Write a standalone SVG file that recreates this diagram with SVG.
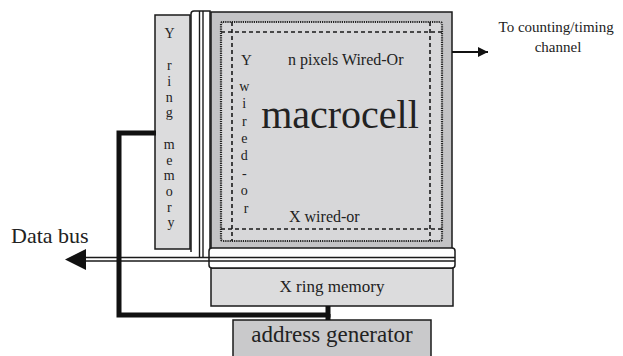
<svg xmlns="http://www.w3.org/2000/svg" width="623" height="356" viewBox="0 0 623 356">
<defs>
<style>
.t{font-family:"Liberation Serif","Times New Roman",serif;fill:#222}
.box{stroke:#1a1a1a;stroke-width:1.5}
.dl{stroke:#1a1a1a;stroke-width:1.4;fill:none}
.dash{stroke:#1a1a1a;stroke-width:1.6;stroke-dasharray:4 3;fill:none}
.thick{stroke:#111;stroke-width:5;fill:none;stroke-linejoin:miter}
</style>
<marker id="ah" viewBox="0 0 10 10" refX="10" refY="5" markerWidth="10" markerHeight="10" markerUnits="userSpaceOnUse" orient="auto">
<path d="M0,0 L10,5 L0,10 z" fill="#111"/>
</marker>
</defs>
<rect width="623" height="356" fill="#fff"/>

<g id="y-ring-memory">
<rect class="box" x="155" y="15" width="35" height="234" fill="#dcdcdd"/>
<text class="t" font-size="14" text-anchor="middle">
<tspan x="171" y="38">Y</tspan>
<tspan x="171" y="70">r</tspan>
<tspan x="171" y="86">i</tspan>
<tspan x="171" y="102">n</tspan>
<tspan x="171" y="117">g</tspan>
<tspan x="171" y="149">m</tspan>
<tspan x="171" y="165">e</tspan>
<tspan x="171" y="180">m</tspan>
<tspan x="171" y="196">o</tspan>
<tspan x="171" y="212">r</tspan>
<tspan x="171" y="227">y</tspan>
</text>
</g>

<g id="y-bus">
<path class="box" d="M191,252 V14 Q191,11 194,11 H210 V252" fill="#fff"/>
<line class="dl" x1="199.5" y1="11" x2="199.5" y2="258"/>
<line class="dl" x1="203" y1="11" x2="203" y2="258"/>
</g>

<g id="macrocell">
<rect class="box" x="211" y="12" width="241" height="237" fill="#c3c3c5"/>
<rect x="221" y="22" width="221" height="219" rx="2" fill="#d7d7d9" stroke="#222" stroke-width="2.2" stroke-dasharray="1.2 1"/>
<line class="dash" x1="221" y1="32" x2="442" y2="32"/>
<line class="dash" x1="221" y1="229" x2="442" y2="229"/>
<line class="dash" x1="232" y1="22" x2="232" y2="241"/>
<line class="dash" x1="430" y1="22" x2="430" y2="241"/>
<text class="t" x="241" y="65" font-size="15">Y</text>
<text class="t" x="288" y="65" font-size="16">n pixels Wired-Or</text>
<text class="t" font-size="14" text-anchor="middle">
<tspan x="246" y="91">w</tspan>
<tspan x="246" y="108">i</tspan>
<tspan x="246" y="126">r</tspan>
<tspan x="246" y="143">e</tspan>
<tspan x="246" y="160">d</tspan>
<tspan x="246" y="178">-</tspan>
<tspan x="246" y="195">o</tspan>
<tspan x="246" y="213">r</tspan>
</text>
<text class="t" x="340" y="128" font-size="40" text-anchor="middle">macrocell</text>
<text class="t" x="289" y="222" font-size="16">X wired-or</text>
</g>

<g id="x-ring-memory">
<rect class="box" x="211" y="268" width="242" height="38" fill="#dcdcdd"/>
<text class="t" x="332" y="292" font-size="17" text-anchor="middle">X ring memory</text>
</g>

<g id="address-generator">
<rect class="box" x="233" y="320" width="198" height="40" fill="#c9c9cb"/>
<text class="t" x="332" y="342" font-size="23" text-anchor="middle">address generator</text>
</g>

<g id="labels">
<text class="t" x="11" y="243" font-size="22">Data bus</text>
<text class="t" font-size="15" text-anchor="middle">
<tspan x="558" y="32">To counting/timing</tspan>
<tspan x="558" y="52">channel</tspan>
</text>
</g>

<g id="connectors">
<rect class="box" x="209" y="248" width="246" height="20" rx="3" fill="#fff"/>
<line class="dl" x1="85" y1="257.5" x2="455" y2="257.5"/>
<line class="dl" x1="85" y1="261" x2="455" y2="261"/>
<path d="M65,259.5 L86,249 L86,270 z" fill="#111"/>
<path class="thick" d="M328,306 V315 H119 V133 H156"/>
<line x1="328" y1="314" x2="328" y2="320" stroke="#111" stroke-width="5"/>
<line x1="452" y1="52" x2="488" y2="52" stroke="#111" stroke-width="1.8" marker-end="url(#ah)"/>
</g>
</svg>
